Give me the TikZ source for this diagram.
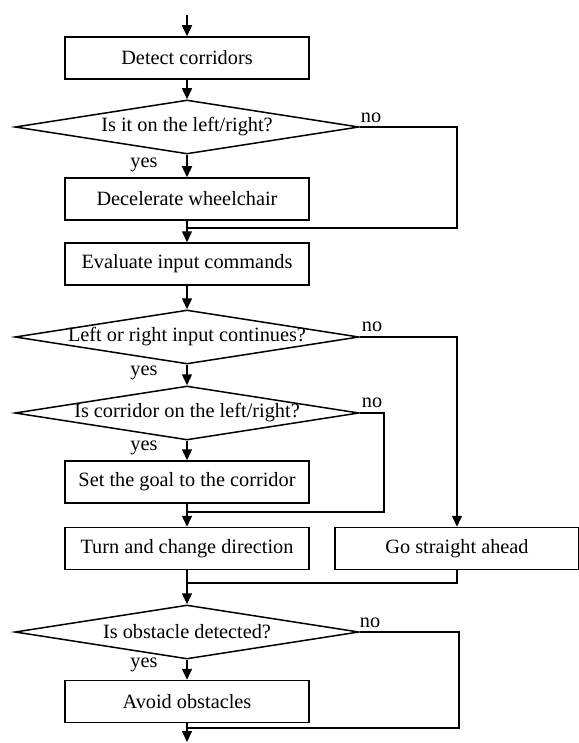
\documentclass[tikz,border=0pt]{standalone}
\usepackage{fontspec}
\setmainfont{Liberation Serif}
\usepackage{tikz}
\usetikzlibrary{positioning,shapes.geometric,arrows.meta}

\begin{document}
\begin{tikzpicture}[x=1pt,y=-1pt,
  every node/.style={font=\fontsize{20.3}{24}\selectfont},
  stepbox/.style={draw,line width=1.5pt,minimum width=244pt,minimum height=42pt,inner sep=0pt},
  decide/.style={draw,diamond,line width=1.5pt,minimum width=344pt,minimum height=54pt,inner sep=0pt},
  arr/.style={line width=1.5pt,-{Triangle[length=11pt,width=10pt]}},
  wire/.style={line width=1.5pt}]
\useasboundingbox (0,0) rectangle (578,743);

% boxes
	\node[stepbox] (detect) at (187,58) {Detect corridors};
	\node[decide] (d1) at (187,127) {\makebox[0pt]{Is it on the left/right?}};
	\node[stepbox] (decel) at (187,199) {Decelerate wheelchair};
	\node[stepbox] (eval) at (187,264) {Evaluate input commands};
	\node[decide] (d2) at (187,337) {\makebox[0pt]{Left or right input continues?}};
	\node[decide] (d3) at (187,413) {\makebox[0pt]{Is corridor on the left/right?}};
	\node[stepbox] (goal) at (187,482) {Set the goal to the corridor};
	\node[stepbox] (turn) at (187,548.5) {Turn and change direction};
	\node[stepbox] (go) at (457,548.5) {Go straight ahead};
	\node[decide] (d4) at (187,632) {\makebox[0pt]{Is obstacle detected?}};
	\node[stepbox] (avoid) at (187,701.5) {Avoid obstacles};

% yes / no
	\node (no1) at (371,118) {no};
	\node (yes1) at (144,165) {yes};
	\node (no2) at (372,327) {no};
	\node (yes2) at (144,373) {yes};
	\node (no3) at (372,403) {no};
	\node (yes3) at (144,448) {yes};
	\node (no4) at (370,623) {no};
	\node (yes4) at (144,665) {yes};

% points
	\coordinate (start) at (187,15);
	\coordinate (r1) at (457,228);
	\coordinate (m1) at (187,228);
	\coordinate (r3) at (384,512);
	\coordinate (m3) at (187,512);
	\coordinate (m4) at (187,583);
	\coordinate (r5) at (459,728);
	\coordinate (m5) at (187,728);
	\coordinate (stop) at (187,742);

	\draw[arr] (start) -- (detect);
	\draw[arr] (detect) -- (d1);
	\draw[arr] (d1) -- (decel);
	\draw[wire] (d1.east) -| (r1) -- (m1);
	\draw[arr] (decel) -- (eval);
	\draw[arr] (eval) -- (d2);
	\draw[arr] (d2) -- (d3);
	\draw[arr] (d2.east) -| (go.north);
	\draw[arr] (d3) -- (goal);
	\draw[wire] (d3.east) -| (r3) -- (m3);
	\draw[arr] (goal) -- (turn);
	\draw[wire] (go.south) |- (m4);
	\draw[arr] (turn) -- (d4);
	\draw[arr] (d4) -- (avoid);
	\draw[wire] (d4.east) -| (r5) -- (m5);
	\draw[arr] (avoid) -- (stop);
\end{tikzpicture}
\end{document}
